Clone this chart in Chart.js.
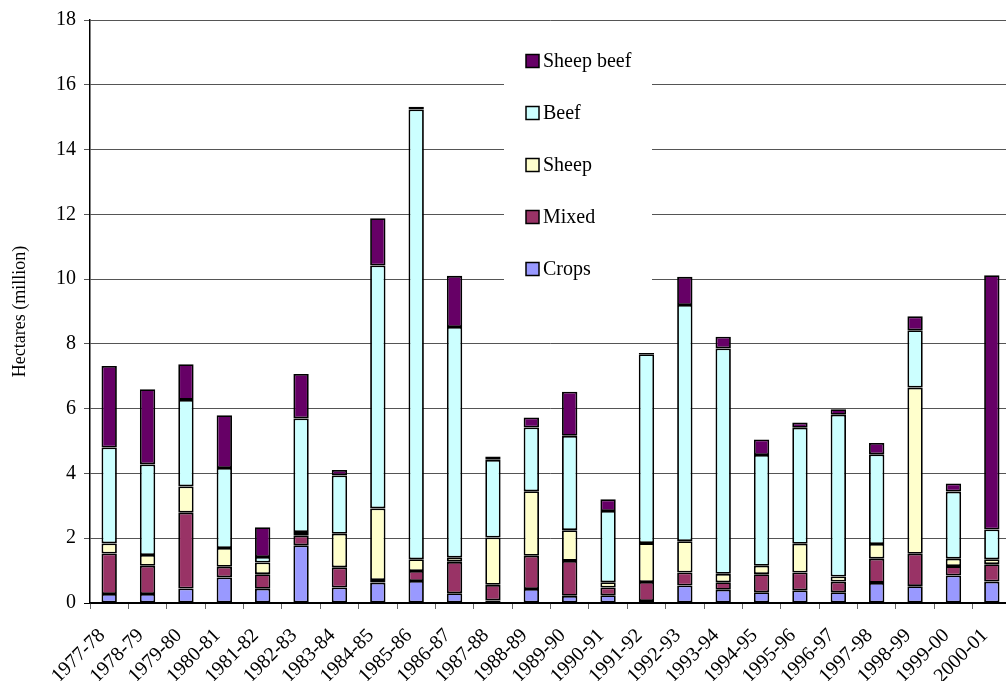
<!DOCTYPE html>
<html>
<head>
<meta charset="utf-8">
<script src="https://cdn.jsdelivr.net/npm/chart.js@4/dist/chart.umd.min.js"></script>
<style>
  html, body { margin: 0; padding: 0; background: #fff; overflow: hidden; }
  #wrap { position: relative; width: 1024px; height: 681px; }
</style>
</head>
<body>
<div id="wrap"><canvas id="c"></canvas></div>
<script>
// Farm land area by enterprise type, million hectares
const seasons = ['1977-78','1978-79','1979-80','1980-81','1981-82','1982-83','1983-84','1984-85',
  '1985-86','1986-87','1987-88','1988-89','1989-90','1990-91','1991-92','1992-93','1993-94',
  '1994-95','1995-96','1996-97','1997-98','1998-99','1999-00','2000-01'];

const crops     = [0.28,0.28,0.45,0.79,0.44,1.78,0.48,0.63,0.68,0.30,0.08,0.43,0.22,0.24,0.06,0.54,0.41,0.33,0.39,0.33,0.62,0.52,0.85,0.66];
const mixed     = [1.25,0.87,2.34,0.33,0.45,0.30,0.62,0.08,0.31,0.97,0.48,1.03,1.08,0.24,0.59,0.40,0.23,0.56,0.55,0.33,0.75,1.00,0.29,0.54];
const sheep     = [0.31,0.33,0.81,0.58,0.36,0.11,1.04,2.21,0.36,0.13,1.46,1.99,0.95,0.16,1.20,0.97,0.26,0.26,0.89,0.16,0.45,5.13,0.23,0.15];
const beef      = [2.96,2.80,2.67,2.47,0.17,3.51,1.80,7.50,13.89,7.12,2.40,1.97,2.91,2.20,5.83,7.29,6.96,3.42,3.58,4.99,2.77,1.77,2.07,0.92];
const sheepBeef = [2.52,2.32,1.10,1.63,0.92,1.37,0.17,1.46,0.08,1.58,0.10,0.31,1.36,0.36,0.04,0.87,0.36,0.48,0.16,0.17,0.35,0.43,0.25,7.85];

const yTicks = [0,2,4,6,8,10,12,14,16,18];

const SERIF = '"Liberation Serif", "Times New Roman", serif';

function ds(label, data, color) {
  return { label, data, backgroundColor: color, borderColor: '#000', borderWidth: 1.8,
           borderSkipped: false, inflateAmount: 0, categoryPercentage: 1.0, barPercentage: 0.40 };
}

// Legend drawn inside the plot on a white panel, top entry first
const boxLegend = {
  id: 'boxLegend',
  afterDraw(chart) {
    const ctx = chart.ctx;
    ctx.save();
    ctx.fillStyle = '#fff';
    ctx.fillRect(504, 30, 148, 270);
    const items = chart.data.datasets.slice().reverse();
    ctx.font = '20px ' + SERIF;
    ctx.textBaseline = 'middle';
    items.forEach((d, i) => {
      const cy = 61 + i * 52;
      ctx.fillStyle = d.backgroundColor;
      ctx.fillRect(526, cy - 6.5, 13, 13);
      ctx.strokeStyle = '#000';
      ctx.lineWidth = 1.5;
      ctx.strokeRect(526, cy - 6.5, 13, 13);
      ctx.fillStyle = '#000';
      ctx.fillText(d.label, 543, cy + 1);
    });
    ctx.restore();
  }
};

new Chart(document.getElementById('c'), {
  type: 'bar',
  data: {
    labels: seasons,
    datasets: [
      ds('Crops', crops, '#9999FF'),
      ds('Mixed', mixed, '#993366'),
      ds('Sheep', sheep, '#FFFFCC'),
      ds('Beef', beef, '#CCFFFF'),
      ds('Sheep beef', sheepBeef, '#660066')
    ]
  },
  options: {
    responsive: true,
    maintainAspectRatio: false,
    animation: false,
    layout: { padding: { top: 18, right: 10, bottom: 0, left: 0 } },
    plugins: { legend: { display: false }, tooltip: { enabled: false } },
    scales: {
      x: {
        stacked: true,
        afterFit(scale) { scale.height = 78; },
        grid: { drawOnChartArea: false, drawTicks: true, tickLength: 6, color: '#666', offset: true },
        border: { color: '#000', width: 1.5 },
        ticks: { autoSkip: false, maxRotation: 45, minRotation: 45, padding: 15, labelOffset: -7,
                 color: '#000', font: { family: SERIF, size: 20 } }
      },
      y: {
        stacked: true,
        min: 0, max: 18,
        afterFit(scale) { scale.width = 90; },
        afterBuildTicks(scale) { scale.ticks = yTicks.map(v => ({ value: v })); },
        grid: { color: ctx => (ctx.tick && ctx.tick.value === 0 ? '#000' : '#555'),
                lineWidth: 1, tickLength: 6 },
        border: { color: '#000', width: 1.5 },
        ticks: { padding: 8, color: '#000', font: { family: SERIF, size: 20 } },
        title: { display: true, text: 'Hectares (million)', color: '#000',
                 font: { family: SERIF, size: 18 }, padding: { top: 9, bottom: 8 } }
      }
    }
  },
  plugins: [boxLegend]
});
</script>
</body>
</html>
